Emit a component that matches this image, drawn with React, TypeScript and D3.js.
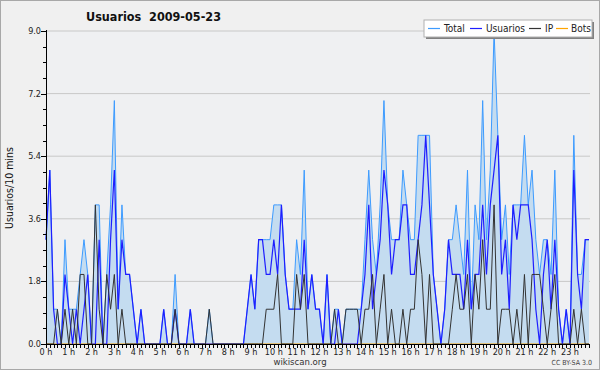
import React from "react";
import * as d3 from "d3";

// 10-minute buckets for 2009-05-23, 144 points (0:00 .. 23:50)
const total = [
  3, 5, 1, 1, 0, 3, 1, 1, 1, 2, 3, 2, 0, 4, 4, 0, 2, 4, 7, 1, 4, 2, 2, 1,
  0, 1, 0, 0, 0, 0, 0, 1, 0, 0, 2, 0, 0, 0, 1, 0, 0, 0, 0, 1, 0, 0, 0, 0,
  0, 0, 0, 0, 0, 1, 2, 1, 3, 3, 3, 3, 4, 4, 4, 2, 1, 1, 3, 2, 5, 1, 2, 1,
  1, 0, 2, 0, 1, 1, 0, 1, 1, 1, 1, 1, 3, 5, 3, 2, 4, 7, 4, 3, 3, 3, 5, 4,
  3, 3, 6, 6, 6, 6, 2, 1, 0, 1, 3, 3, 4, 3, 2, 5, 1, 4, 3, 7, 3, 5, 9, 6,
  3, 4, 2, 4, 4, 4, 6, 4, 5, 3, 2, 3, 3, 2, 5, 1, 0, 1, 0, 6, 2, 2, 3, 3,
];
const usuarios = [
  3, 5, 1, 0, 0, 2, 1, 0, 1, 0, 1, 2, 0, 0, 3, 0, 0, 3, 5, 1, 3, 2, 2, 1,
  0, 1, 0, 0, 0, 0, 0, 1, 0, 0, 1, 0, 0, 0, 1, 0, 0, 0, 0, 0, 0, 0, 0, 0,
  0, 0, 0, 0, 0, 1, 2, 1, 3, 3, 2, 2, 3, 2, 4, 2, 1, 1, 1, 1, 3, 1, 2, 1,
  1, 0, 2, 0, 0, 1, 0, 0, 0, 0, 0, 1, 2, 4, 1, 2, 3, 5, 4, 2, 3, 3, 4, 4,
  2, 2, 3, 4, 6, 4, 2, 1, 0, 1, 3, 2, 2, 2, 1, 3, 1, 2, 2, 4, 2, 4, 5, 6,
  2, 3, 1, 4, 3, 4, 4, 4, 3, 1, 0, 2, 3, 1, 3, 1, 0, 1, 0, 5, 2, 1, 3, 3,
];
const ip = [
  0, 0, 0, 1, 0, 1, 0, 1, 0, 2, 2, 0, 0, 4, 1, 0, 2, 1, 2, 0, 1, 0, 0, 0,
  0, 0, 0, 0, 0, 0, 0, 0, 0, 0, 1, 0, 0, 0, 0, 0, 0, 0, 0, 1, 0, 0, 0, 0,
  0, 0, 0, 0, 0, 0, 0, 0, 0, 0, 1, 1, 1, 2, 0, 0, 0, 0, 2, 1, 2, 0, 0, 0,
  0, 0, 0, 0, 1, 0, 0, 1, 1, 1, 1, 0, 1, 1, 2, 0, 1, 2, 0, 1, 0, 0, 1, 0,
  1, 1, 3, 2, 0, 2, 0, 0, 0, 0, 0, 1, 2, 1, 1, 2, 0, 2, 1, 3, 1, 1, 4, 0,
  1, 1, 1, 0, 1, 0, 2, 0, 2, 2, 2, 1, 0, 1, 2, 0, 0, 0, 0, 1, 0, 1, 0, 0,
];
const bots = total.map(() => 0);

const yTicks = [0, 1.8, 3.6, 5.4, 7.2, 9.0];
const hours = d3.range(0, 24);

const W = 600;
const H = 370;
const font = "'DejaVu Sans Condensed', 'DejaVu Sans', sans-serif";

export default function App() {
  const x = d3.scaleLinear().domain([0, 143]).range([46, 589]);
  const y = d3.scaleLinear().domain([0, 9]).range([344, 31]);

  const line = d3
    .line<number>()
    .x((_, i) => x(i))
    .y((d) => y(d));
  const area = d3
    .area<number>()
    .x((_, i) => x(i))
    .y0(y(0))
    .y1((d) => y(d));

  const minorY = d3.range(0, 9.001, 0.45);
  const legend = [
    { label: "Total", color: "#3d9bff", lx: 428, tx: 444 },
    { label: "Usuarios", color: "#1e1eff", lx: 470, tx: 486 },
    { label: "IP", color: "#333333", lx: 529, tx: 545 },
    { label: "Bots", color: "#ffa500", lx: 556, tx: 571 },
  ];

  return (
    <svg
      width={W}
      height={H}
      style={{ position: "absolute", left: 0, top: 0 }}
      fontFamily={font}
    >
      <rect x={0.5} y={0.5} width={W - 1} height={H - 1} fill="#f0f0f0" stroke="#a8a8a8" />
      <rect x={46} y={31} width={543} height={313} fill="#eff0f2" />

      {/* grid */}
      {yTicks.slice(1).map((t) => (
        <line key={t} x1={46} x2={590} y1={y(t)} y2={y(t)} stroke="#c8c8c8" strokeWidth={1} />
      ))}

      {/* series */}
      <path d={area(total) ?? ""} fill="#c4dcf0" />
      <path d={line(total) ?? ""} fill="none" stroke="#3d9bff" strokeWidth={1} />
      <path d={line(bots) ?? ""} fill="none" stroke="#ffa500" strokeWidth={1} />
      <path d={line(usuarios) ?? ""} fill="none" stroke="#1e1eff" strokeWidth={1.2} />
      <path d={line(ip) ?? ""} fill="none" stroke="#333333" strokeWidth={1} />

      {/* y axis */}
      <line x1={46.5} x2={46.5} y1={30} y2={344} stroke="#000" />
      {minorY.map((t, i) => (
        <line key={i} x1={43} x2={46} y1={Math.round(y(t)) + 0.5} y2={Math.round(y(t)) + 0.5} stroke="#000" />
      ))}
      {yTicks.map((t) => (
        <g key={t}>
          <line x1={41} x2={46} y1={Math.round(y(t)) + 0.5} y2={Math.round(y(t)) + 0.5} stroke="#000" />
          <text x={41} y={y(t) + 3} fontSize={9} textAnchor="end" fill="#222">
            {t.toFixed(1)}
          </text>
        </g>
      ))}

      {/* x axis */}
      <line x1={46} x2={590} y1={344.5} y2={344.5} stroke="#000" />
      {d3.range(0, 144).map((i) => (
        <line key={i} x1={Math.round(x(i)) + 0.5} x2={Math.round(x(i)) + 0.5} y1={344} y2={348} stroke="#000" />
      ))}
      {hours.map((h) => (
        <text key={h} x={x(h * 6)} y={355} fontSize={9} textAnchor="middle" fill="#222">
          {`${h} h`}
        </text>
      ))}

      {/* titles */}
      <text x={86} y={21} fontSize={12.5} fontWeight="bold" fill="#111" style={{ whiteSpace: "pre" }}>
        {"Usuarios  2009-05-23"}
      </text>
      <text
        transform={`translate(13,188) rotate(-90)`}
        fontSize={10.5}
        textAnchor="middle"
        fill="#111"
      >
        Usuarios/10 mins
      </text>
      <text x={300} y={365} fontSize={9.5} textAnchor="middle" fill="#333">
        wikiscan.org
      </text>
      <text x={592} y={365} fontSize={7} textAnchor="end" fill="#444">
        CC BY-SA 3.0
      </text>

      {/* legend */}
      <rect x={426} y={22} width={168} height={17} fill="#808080" />
      <rect x={424} y={20} width={168} height={17} fill="#ffffff" stroke="#b0b0b0" />
      {legend.map((d) => (
        <g key={d.label}>
          <line x1={d.lx} x2={d.lx + 12} y1={28.5} y2={28.5} stroke={d.color} strokeWidth={1.2} />
          <text x={d.tx} y={32} fontSize={10} fill="#222">
            {d.label}
          </text>
        </g>
      ))}
    </svg>
  );
}
